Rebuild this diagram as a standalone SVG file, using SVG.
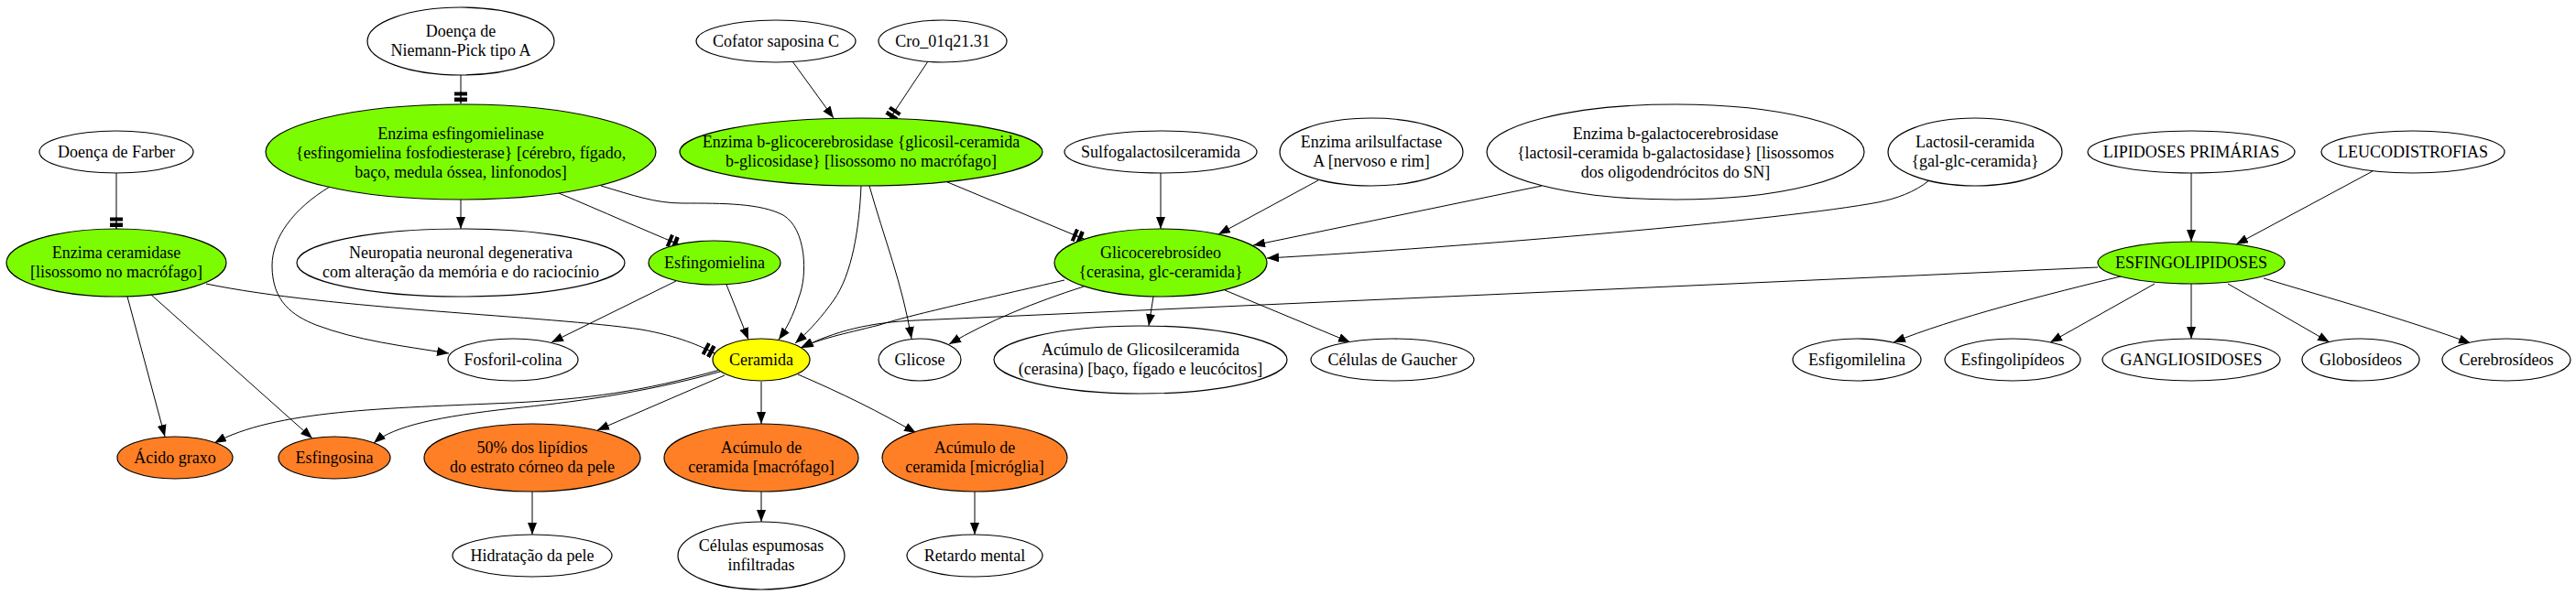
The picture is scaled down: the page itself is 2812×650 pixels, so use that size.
<svg xmlns="http://www.w3.org/2000/svg" width="2812" height="650" viewBox="0 0 2812 650">
<style>
.node ellipse{stroke:#000;stroke-width:1.2;fill:#fff}
.node ellipse.g{fill:#7cfc00}
.node ellipse.o{fill:#fe7f25}
.node ellipse.y{fill:#ffff00}
.node text{font-family:"Liberation Serif","Times New Roman",serif;font-size:18px;text-anchor:middle;fill:#000}
#edges path{fill:none;stroke:#000;stroke-width:1}
#edges path.a{marker-end:url(#arrow)}
#edges path.t{marker-end:url(#tee)}
</style>
<defs>
<marker id="arrow" markerUnits="userSpaceOnUse" viewBox="0 0 13 10" markerWidth="13" markerHeight="10" refX="13" refY="5" orient="auto"><path d="M0,0 L13,5 L0,10 z" fill="#000"/></marker>
<marker id="tee" markerUnits="userSpaceOnUse" viewBox="0 0 13 14" markerWidth="13" markerHeight="14" refX="13" refY="7" orient="auto"><rect x="0.5" y="0" width="4" height="14" fill="#000"/><rect x="6.5" y="0" width="4.5" height="14" fill="#000"/><path d="M0,7 L13,7" stroke="#000" stroke-width="1"/></marker>
</defs>
<rect width="2812" height="650" fill="#fff"/>
<g id="edges">
<path class="t" d="M503,82 L503,113"/>
<path class="a" d="M865,67 L910,129"/>
<path class="t" d="M1013,67 L971,130"/>
<path class="t" d="M127,189 L127,250"/>
<path class="a" d="M503,218 L503,250"/>
<path class="t" d="M610,211 C 660,232 700,250 741,267"/>
<path class="a" d="M360,204 C 320,228 297,260 297,290 C 297,330 320,345 345,355 C 390,372 440,378 490,386"/>
<path class="a" d="M656,203 C 690,213 715,222 745,222 C 790,222 830,222 855,235 C 880,250 882,300 872,325 C 866,345 858,360 850,371"/>
<path class="t" d="M225,310 C 360,338 600,345 700,360 C 740,367 765,378 780,386"/>
<path class="a" d="M139,324 L180,477"/>
<path class="a" d="M165,322 L341,479"/>
<path class="a" d="M738,307 L602,374"/>
<path class="a" d="M793,311 L817,371"/>
<path class="a" d="M940,203 C 938,250 930,300 910,328 C 898,345 885,360 868,375"/>
<path class="a" d="M949,203 C 965,260 985,310 995,370"/>
<path class="t" d="M1032,198 L1183,261"/>
<path class="a" d="M1267,189 L1267,250"/>
<path class="a" d="M1439,197 L1330,256"/>
<path class="a" d="M1683,203 L1368,268"/>
<path class="a" d="M2106,197 C 2090,210 2070,217 2050,221 C 1950,240 1600,270 1383,282"/>
<path class="a" d="M1162,306 C 1080,325 990,345 960,355 C 920,365 895,370 874,380"/>
<path class="a" d="M1183,313 C 1130,330 1080,350 1036,376"/>
<path class="a" d="M1259,324 L1254,356"/>
<path class="a" d="M1337,317 L1474,374"/>
<path class="a" d="M2290,292 L1000,350 C 950,352 910,362 875,380"/>
<path class="a" d="M2392,189 L2392,264"/>
<path class="a" d="M2590,187 L2441,267"/>
<path class="a" d="M2315,302 C 2240,320 2130,348 2067,374"/>
<path class="a" d="M2352,310 L2238,374"/>
<path class="a" d="M2392,310 L2392,370"/>
<path class="a" d="M2432,310 L2543,374"/>
<path class="a" d="M2471,304 C 2540,325 2630,350 2697,375"/>
<path class="a" d="M786,404 C 700,428 640,436 560,440 C 420,446 300,448 234,484"/>
<path class="a" d="M786,406 C 700,430 620,440 560,446 C 480,455 430,465 408,484"/>
<path class="a" d="M791,410 L652,470"/>
<path class="a" d="M831,417 L831,463"/>
<path class="a" d="M871,409 C 920,430 960,450 1000,473"/>
<path class="a" d="M581,537 L581,584"/>
<path class="a" d="M831,537 L831,570"/>
<path class="a" d="M1064,537 L1064,584"/>
</g>
<g id="niemann" class="node"><ellipse cx="503" cy="45" rx="102" ry="37"/><text x="503" y="40">Doença de</text><text x="503" y="61">Niemann-Pick tipo A</text></g>
<g id="cofator" class="node"><ellipse cx="847" cy="45" rx="87" ry="23"/><text x="847" y="51">Cofator saposina C</text></g>
<g id="cro" class="node"><ellipse cx="1029" cy="45" rx="70" ry="23"/><text x="1029" y="51">Cro_01q21.31</text></g>
<g id="farber" class="node"><ellipse cx="127" cy="166" rx="84" ry="23"/><text x="127" y="172">Doença de Farber</text></g>
<g id="esfingomielinase" class="node"><ellipse class="g" cx="503" cy="166" rx="213" ry="52"/><text x="503" y="152">Enzima esfingomielinase</text><text x="503" y="173">{esfingomielina fosfodiesterase} [cérebro, fígado,</text><text x="503" y="194">baço, medula óssea, linfonodos]</text></g>
<g id="bglico" class="node"><ellipse class="g" cx="940" cy="166" rx="198" ry="37"/><text x="940" y="161">Enzima b-glicocerebrosidase {glicosil-ceramida</text><text x="940" y="182">b-glicosidase} [lisossomo no macrófago]</text></g>
<g id="sulfo" class="node"><ellipse cx="1267" cy="166" rx="105" ry="23"/><text x="1267" y="172">Sulfogalactosilceramida</text></g>
<g id="arilsulf" class="node"><ellipse cx="1497" cy="166" rx="100" ry="37"/><text x="1497" y="161">Enzima arilsulfactase</text><text x="1497" y="182">A [nervoso e rim]</text></g>
<g id="bgalacto" class="node"><ellipse cx="1829" cy="166" rx="206" ry="52"/><text x="1829" y="152">Enzima b-galactocerebrosidase</text><text x="1829" y="173">{lactosil-ceramida b-galactosidase} [lisossomos</text><text x="1829" y="194">dos oligodendrócitos do SN]</text></g>
<g id="lactosil" class="node"><ellipse cx="2156" cy="166" rx="95" ry="37"/><text x="2156" y="161">Lactosil-ceramida</text><text x="2156" y="182">{gal-glc-ceramida}</text></g>
<g id="lipidoses" class="node"><ellipse cx="2392" cy="166" rx="113" ry="23"/><text x="2392" y="172">LIPIDOSES PRIMÁRIAS</text></g>
<g id="leuco" class="node"><ellipse cx="2634" cy="166" rx="100" ry="23"/><text x="2634" y="172">LEUCODISTROFIAS</text></g>
<g id="ceramidase" class="node"><ellipse class="g" cx="127" cy="287" rx="120" ry="37"/><text x="127" y="282">Enzima ceramidase</text><text x="127" y="303">[lisossomo no macrófago]</text></g>
<g id="neuropatia" class="node"><ellipse cx="503" cy="287" rx="179" ry="37"/><text x="503" y="282">Neuropatia neuronal degenerativa</text><text x="503" y="303">com alteração da memória e do raciocínio</text></g>
<g id="esfingomielina" class="node"><ellipse class="g" cx="780" cy="287" rx="72" ry="24"/><text x="780" y="293">Esfingomielina</text></g>
<g id="glico" class="node"><ellipse class="g" cx="1267" cy="287" rx="116" ry="37"/><text x="1267" y="282">Glicocerebrosídeo</text><text x="1267" y="303">{cerasina, glc-ceramida}</text></g>
<g id="esfingolipidoses" class="node"><ellipse class="g" cx="2392" cy="287" rx="102" ry="23"/><text x="2392" y="293">ESFINGOLIPIDOSES</text></g>
<g id="fosforil" class="node"><ellipse cx="560" cy="393" rx="71" ry="23"/><text x="560" y="399">Fosforil-colina</text></g>
<g id="ceramida" class="node"><ellipse class="y" cx="831" cy="393" rx="53" ry="23"/><text x="831" y="399">Ceramida</text></g>
<g id="glicose" class="node"><ellipse cx="1004" cy="393" rx="45" ry="23"/><text x="1004" y="399">Glicose</text></g>
<g id="acumglic" class="node"><ellipse cx="1245" cy="393" rx="160" ry="37"/><text x="1245" y="388">Acúmulo de Glicosilceramida</text><text x="1245" y="409">(cerasina) [baço, fígado e leucócitos]</text></g>
<g id="gaucher" class="node"><ellipse cx="1520" cy="393" rx="89" ry="23"/><text x="1520" y="399">Células de Gaucher</text></g>
<g id="esfigomilelina" class="node"><ellipse cx="2027" cy="393" rx="70" ry="23"/><text x="2027" y="399">Esfigomilelina</text></g>
<g id="esfingolipideos" class="node"><ellipse cx="2197" cy="393" rx="74" ry="23"/><text x="2197" y="399">Esfingolipídeos</text></g>
<g id="gangliosidoses" class="node"><ellipse cx="2392" cy="393" rx="97" ry="23"/><text x="2392" y="399">GANGLIOSIDOSES</text></g>
<g id="globosideos" class="node"><ellipse cx="2577" cy="393" rx="64" ry="23"/><text x="2577" y="399">Globosídeos</text></g>
<g id="cerebrosideos" class="node"><ellipse cx="2736" cy="393" rx="70" ry="23"/><text x="2736" y="399">Cerebrosídeos</text></g>
<g id="acido" class="node"><ellipse class="o" cx="191" cy="500" rx="63" ry="23"/><text x="191" y="506">Ácido graxo</text></g>
<g id="esfingosina" class="node"><ellipse class="o" cx="365" cy="500" rx="61" ry="23"/><text x="365" y="506">Esfingosina</text></g>
<g id="cinquenta" class="node"><ellipse class="o" cx="581" cy="500" rx="118" ry="37"/><text x="581" y="495">50% dos lipídios</text><text x="581" y="516">do estrato córneo da pele</text></g>
<g id="acummac" class="node"><ellipse class="o" cx="831" cy="500" rx="106" ry="37"/><text x="831" y="495">Acúmulo de</text><text x="831" y="516">ceramida [macrófago]</text></g>
<g id="acummic" class="node"><ellipse class="o" cx="1064" cy="500" rx="101" ry="37"/><text x="1064" y="495">Acúmulo de</text><text x="1064" y="516">ceramida [micróglia]</text></g>
<g id="hidratacao" class="node"><ellipse cx="581" cy="607" rx="87" ry="23"/><text x="581" y="613">Hidratação da pele</text></g>
<g id="espumosas" class="node"><ellipse cx="831" cy="607" rx="91" ry="37"/><text x="831" y="602">Células espumosas</text><text x="831" y="623">infiltradas</text></g>
<g id="retardo" class="node"><ellipse cx="1064" cy="607" rx="74" ry="23"/><text x="1064" y="613">Retardo mental</text></g>
</svg>
